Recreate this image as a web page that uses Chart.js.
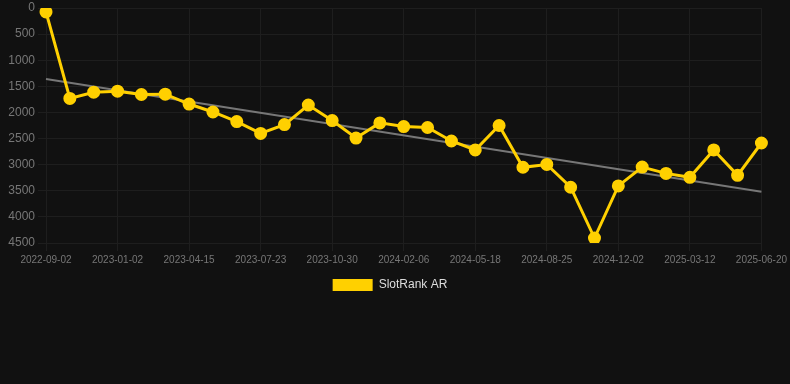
<!DOCTYPE html>
<html>
<head>
<meta charset="utf-8">
<script src="https://cdn.jsdelivr.net/npm/chart.js@4"></script>
<style>
html,body{margin:0;padding:0;background:#111111;width:790px;height:384px;overflow:hidden;}
#wrap{position:relative;width:790px;height:301px;}
</style>
</head>
<body>
<div id="wrap"><canvas id="c"></canvas></div>
<script>
const categories = [
  "2022-09-02","2022-10-13","2022-11-23","2023-01-02","2023-02-06","2023-03-13",
  "2023-04-15","2023-05-19","2023-06-20","2023-07-23","2023-08-27","2023-09-28",
  "2023-10-30","2023-12-04","2024-01-05","2024-02-06","2024-03-11","2024-04-14",
  "2024-05-18","2024-06-21","2024-07-23","2024-08-25","2024-09-27","2024-10-30",
  "2024-12-02","2025-01-05","2025-02-07","2025-03-12","2025-04-15","2025-05-18",
  "2025-06-20"
];
const rankValues = [
  76, 1732, 1612, 1593, 1656, 1650, 1839, 1991, 2175, 2402,
  2232, 1858, 2156, 2490, 2200, 2270, 2288, 2547, 2718, 2250,
  3050, 2996, 3432, 4405, 3407, 3047, 3167, 3242, 2718, 3205,
  2585
];
const trendStart = 1360;
const trendEnd = 3520;
const trendValues = categories.map((_, i) => i === 0 ? trendStart : (i === categories.length - 1 ? trendEnd : null));
const yTicks = [0, 500, 1000, 1500, 2000, 2500, 3000, 3500, 4000, 4500];
const seriesName = "SlotRank AR";

new Chart(document.getElementById('c'), {
  type: 'line',
  data: {
    labels: categories,
    datasets: [
      {
        label: seriesName,
        data: rankValues,
        borderColor: '#FFD000',
        backgroundColor: '#FFD000',
        borderWidth: 3,
        pointRadius: 5,
        pointBackgroundColor: '#FFD000',
        pointBorderColor: '#FFD000',
        tension: 0,
        order: 1
      },
      {
        label: 'trend',
        data: trendValues,
        borderColor: '#777777',
        borderWidth: 2,
        pointRadius: 0,
        spanGaps: true,
        fill: false,
        order: 2
      }
    ]
  },
  options: {
    responsive: true,
    maintainAspectRatio: false,
    animation: false,
    layout: { padding: { top: 5, right: 10 } },
    plugins: {
      legend: {
        position: 'bottom',
        labels: {
          color: '#dddddd',
          font: { family: 'Arial, "Liberation Sans", sans-serif', size: 12 },
          boxWidth: 40,
          boxHeight: 12,
          filter: (item) => item.text === seriesName,
          generateLabels: (chart) => {
            const items = Chart.defaults.plugins.legend.labels.generateLabels(chart);
            items.forEach(it => { it.lineWidth = 0; it.strokeStyle = 'rgba(0,0,0,0)'; });
            return items;
          }
        }
      },
      tooltip: { enabled: false }
    },
    scales: {
      x: {
        grid: { color: '#1e1e1e', drawTicks: true },
        border: { color: '#1e1e1e' },
        ticks: {
          color: '#777777',
          font: { family: 'Arial, "Liberation Sans", sans-serif', size: 10 },
          autoSkip: false,
          maxRotation: 0,
          callback: function(val, idx) { return idx % 3 === 0 ? this.getLabelForValue(val) : null; }
        }
      },
      y: {
        reverse: true,
        min: 0,
        max: 4500,
        afterBuildTicks: (axis) => { axis.ticks = yTicks.map(v => ({ value: v })); },
        afterFit: (axis) => { axis.width = 46; axis.paddingTop = 0; },
        grid: { color: '#1e1e1e' },
        border: { color: '#1e1e1e' },
        ticks: {
          color: '#777777',
          font: { family: 'Arial, "Liberation Sans", sans-serif', size: 12 },
          callback: (v) => String(v)
        }
      }
    }
  }
});
</script>
</body>
</html>
